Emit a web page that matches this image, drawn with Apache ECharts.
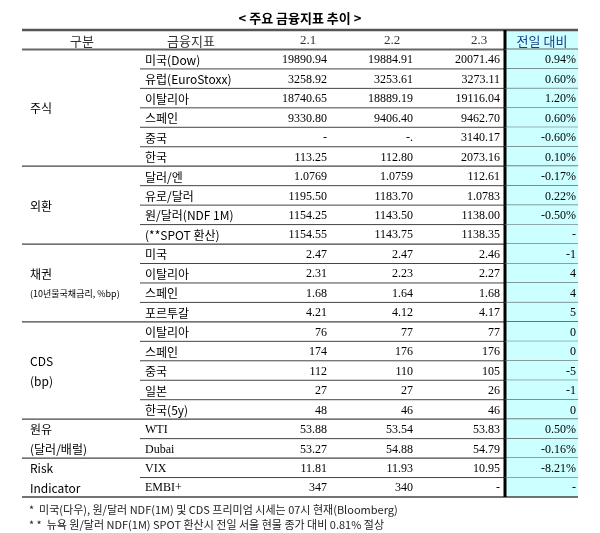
<!DOCTYPE html>
<html>
<head>
<meta charset="utf-8">
<script src="https://cdn.jsdelivr.net/npm/echarts@6/dist/echarts.min.js"></script>
<style>html,body{margin:0;padding:0;background:#fff}#main{width:600px;height:533px}</style>
</head>
<body>
<div id="main"></div>
<script>
// 표 데이터
var headers = ['구분', '금융지표', '2.1', '2.2', '2.3', '전일 대비'];
var groups = ['주식', '외환', '채권\n{s|(10년물국채금리, %bp)}', 'CDS\n(bp)', '원유\n(달러/배럴)', 'Risk\nIndicator'];
var groupSpans = [6, 4, 4, 5, 2, 2];
var indicators = ['미국(Dow)', '유럽(EuroStoxx)', '이탈리아', '스페인', '중국', '한국',
    '달러/엔', '유로/달러', '원/달러(NDF 1M)', '(**SPOT 환산)',
    '미국', '이탈리아', '스페인', '포르투갈',
    '이탈리아', '스페인', '중국', '일본', '한국(5y)',
    'WTI', 'Dubai', 'VIX', 'EMBI+'];
var d21 = ['19890.94', '3258.92', '18740.65', '9330.80', '-', '113.25',
    '1.0769', '1195.50', '1154.25', '1154.55',
    '2.47', '2.31', '1.68', '4.21',
    '76', '174', '112', '27', '48',
    '53.88', '53.27', '11.81', '347'];
var d22 = ['19884.91', '3253.61', '18889.19', '9406.40', '-.', '112.80',
    '1.0759', '1183.70', '1143.50', '1143.75',
    '2.47', '2.23', '1.64', '4.12',
    '77', '176', '110', '27', '46',
    '53.54', '54.88', '11.93', '340'];
var d23 = ['20071.46', '3273.11', '19116.04', '9462.70', '3140.17', '2073.16',
    '112.61', '1.0783', '1138.00', '1138.35',
    '2.46', '2.27', '1.68', '4.17',
    '77', '176', '105', '26', '46',
    '53.83', '54.79', '10.95', '-'];
var chg = ['0.94%', '0.60%', '1.20%', '0.60%', '-0.60%', '0.10%',
    '-0.17%', '0.22%', '-0.50%', '-',
    '-1', '4', '4', '5',
    '0', '0', '-5', '-1', '0',
    '0.50%', '-0.16%', '-8.21%', '-'];

// 열 위치 (x축 값)
var W = 556;
var colHeadX = [60, 169, 286, 370, 457, 520];
var groupX = 8, indX = 123, valX = [305, 391, 478, 554];
var lineStart = 118, sepX = 483;
var nRows = indicators.length + 1;
var rows = [];
for (var i = 0; i < nRows; i++) rows.push(String(i));

var serif = '"Liberation Serif", "Noto Sans CJK KR", serif';
var cjk = '"Noto Sans CJK KR", "Liberation Serif", sans-serif';

// 텍스트 셀
var cells = [];
headers.forEach(function (h, i) { cells.push([colHeadX[i], 0, h, 'center', i == 5 ? '#1b3a8c' : '#333']); });
indicators.forEach(function (t, i) {
    var r = i + 1;
    cells.push([indX, r, t, 'left', '#000']);
    cells.push([valX[0], r, d21[i], 'right', '#000']);
    cells.push([valX[1], r, d22[i], 'right', '#000']);
    cells.push([valX[2], r, d23[i], 'right', '#000']);
    cells.push([valX[3], r, chg[i], 'right', '#000']);
});
// 그룹 라벨 (시작 행 + 행 수)
var groupCells = [], sepRows = [], r0 = 1;
groups.forEach(function (g, i) {
    groupCells.push([groupX, r0, g, groupSpans[i]]);
    r0 += groupSpans[i];
    sepRows.push(r0);
});

var myChart = echarts.init(document.getElementById('main'));

var option = {
    animation: false,
    title: [{
        text: '< 주요 금융지표 추이 >', left: 'center', top: 7,
        textStyle: { fontFamily: cjk, fontSize: 13, fontWeight: 'bold', color: '#000' }
    }, {
        text: '*  미국(다우), 원/달러 NDF(1M) 및 CDS 프리미엄 시세는 07시 현재(Bloomberg)\n* *  뉴욕 원/달러 NDF(1M) SPOT 환산시 전일 서울 현물 종가 대비 0.81% 절상',
        left: 24, top: 497,
        textStyle: { fontFamily: cjk, fontSize: 11, fontWeight: 'normal', color: '#222', lineHeight: 15 }
    }],
    grid: { left: 22, right: 22, top: 30, bottom: 36 },
    xAxis: { type: 'value', min: 0, max: W, show: false },
    yAxis: { type: 'category', data: rows, inverse: true, show: false },
    series: [{
        // 배경 + 선
        type: 'custom',
        data: rows.map(function (r, i) { return [0, i]; }),
        renderItem: function (params, api) {
            var r = api.value(1);
            var c = api.coord([0, r]);
            var h = api.size([0, 1])[1];
            var top = c[1] - h / 2, bot = c[1] + h / 2;
            var xs = api.coord([sepX, r])[0], xe = api.coord([W, r])[0];
            var xl = c[0], xi = api.coord([lineStart, r])[0];
            var ch = [{
                type: 'rect', shape: { x: xs, y: top, width: xe - xs, height: h },
                style: { fill: '#ccffff' }
            }];
            if (r === 0) {
                ch.push({ type: 'line', shape: { x1: xl, y1: top, x2: xe, y2: top }, style: { stroke: '#555', lineWidth: 2.5 } });
                ch.push({ type: 'line', shape: { x1: xl, y1: bot, x2: xe, y2: bot }, style: { stroke: '#666', lineWidth: 2 } });
            } else if (sepRows.indexOf(r + 1) >= 0) {
                ch.push({ type: 'line', shape: { x1: xl, y1: bot, x2: xe, y2: bot }, style: { stroke: '#444', lineWidth: r === nRows - 1 ? 1.5 : 1.2 } });
            } else {
                ch.push({ type: 'line', shape: { x1: xi, y1: bot, x2: xe, y2: bot }, style: { stroke: '#444', lineWidth: 1 } });
            }
            ch.push({ type: 'line', shape: { x1: xs, y1: top, x2: xs, y2: bot }, style: { stroke: '#000', lineWidth: 3 } });
            return { type: 'group', children: ch };
        },
        z: 1
    }, {
        type: 'custom',
        data: cells,
        renderItem: function (params, api) {
            var it = cells[params.dataIndex];
            var p = api.coord([it[0], it[1]]);
            var isHead = it[1] === 0;
            var ascii = /^[\x00-\x7F]*$/.test(it[2]);
            return {
                type: 'text', x: p[0], y: p[1] + 1,
                style: {
                    text: it[2], align: it[3], verticalAlign: 'middle',
                    fill: it[4], fontSize: isHead ? 13 : 12,
                    fontFamily: ascii ? serif : cjk
                }
            };
        },
        z: 3
    }, {
        type: 'custom',
        data: groupCells,
        renderItem: function (params, api) {
            var it = groupCells[params.dataIndex];
            var p = api.coord([it[0], it[1]]);
            var h = api.size([0, 1])[1];
            var y = p[1] + (it[3] - 1) / 2 * h;
            return {
                type: 'text', x: p[0], y: y + 1,
                style: {
                    text: it[2], align: 'left', verticalAlign: 'middle',
                    fill: '#000', fontSize: 12, lineHeight: 20, fontFamily: cjk,
                    rich: { s: { fontSize: 9, lineHeight: 20, fontFamily: cjk, fill: '#000' } }
                }
            };
        },
        z: 3
    }]
};

myChart.setOption(option);
</script>
</body>
</html>
